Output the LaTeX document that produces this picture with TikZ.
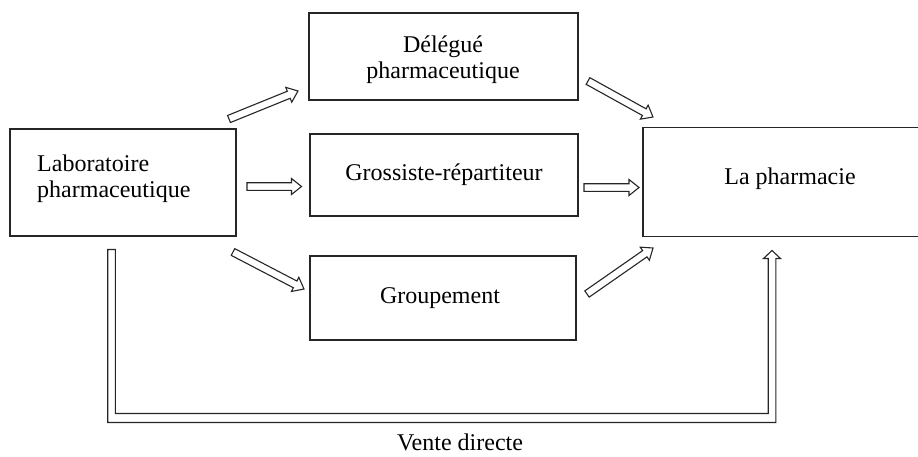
\documentclass[tikz,border=0pt]{standalone}
\usepackage{fontspec}
\setmainfont{Liberation Serif}
\usetikzlibrary{calc}
\newcommand\hollowarrow[2]{%
  \coordinate (hb) at ($(#2)!10pt!(#1)$);
  \draw[harrow] ($(#1)!3.8pt!90:(#2)$) -- ($(hb)!3.8pt!90:(#2)$) -- ($(hb)!8pt!90:(#2)$) -- (#2)
    -- ($(hb)!8pt!-90:(#2)$) -- ($(hb)!3.8pt!-90:(#2)$) -- ($(#1)!3.8pt!-90:(#2)$) -- cycle;}
\begin{document}
\begin{tikzpicture}[x=1pt,y=-1pt,
  box/.style={draw=black!85, line width=1.2pt, inner sep=0pt},
  lbl/.style={inner sep=0pt, font=\fontsize{24}{26}\selectfont, align=center},
  harrow/.style={draw=black!85, line width=1.1pt, fill=white, line join=miter}]
\useasboundingbox (0,0) rectangle (918,456);
% boxes
\node[box, minimum width=269pt, minimum height=87pt] (del) at (443.5,56.5) {};
\node[box, minimum width=226pt, minimum height=107pt] (lab) at (123,182.5) {};
\node[box, minimum width=268pt, minimum height=82pt] (gro) at (444,175) {};
\node[box, minimum width=266pt, minimum height=84pt] (grp) at (443,298) {};
\node[box, minimum width=290pt, minimum height=109pt] (pha) at (788,182) {};
% labels
\node[lbl] (delt) at (443,60) {Délégué\\pharmaceutique};
\node[lbl, anchor=west, align=left] (labt) at (37,179) {Laboratoire\\pharmaceutique};
\node[lbl] (grot) at (444,175) {Grossiste-répartiteur};
\node[lbl] (grpt) at (440,298) {Groupement};
\node[lbl] (phat) at (790,179) {La pharmacie};
\node[lbl] (vdt) at (460,442) {Vente directe};
% arrows
\coordinate (a1s) at (229,119); \coordinate (a1e) at (298,91);
\coordinate (a2s) at (247,186.5); \coordinate (a2e) at (301.5,186.5);
\coordinate (a3s) at (233,252); \coordinate (a3e) at (304,289);
\coordinate (a4s) at (588,81); \coordinate (a4e) at (653,117);
\coordinate (a5s) at (584,187.5); \coordinate (a5e) at (639,187.5);
\coordinate (a6s) at (587,294); \coordinate (a6e) at (653,248);
\hollowarrow{a1s}{a1e}
\hollowarrow{a2s}{a2e}
\hollowarrow{a3s}{a3e}
\hollowarrow{a4s}{a4e}
\hollowarrow{a5s}{a5e}
\hollowarrow{a6s}{a6e}
% vente directe path
\coordinate (vds) at (111.5,249.5);
\coordinate (vde) at (772,250.5);
\draw[harrow] ($(vds)+(-3.8,0)$) -- ($(vds)+(3.8,0)$) -- (115.3,413.5) -- (768.2,413.5)
  -- ($(vde)+(-3.8,8)$) -- ($(vde)+(-8.5,8)$) -- (vde) -- ($(vde)+(8.5,8)$) -- ($(vde)+(3.8,8)$)
  -- (775.8,422.5) -- (107.7,422.5) -- cycle;
\end{tikzpicture}
\end{document}
